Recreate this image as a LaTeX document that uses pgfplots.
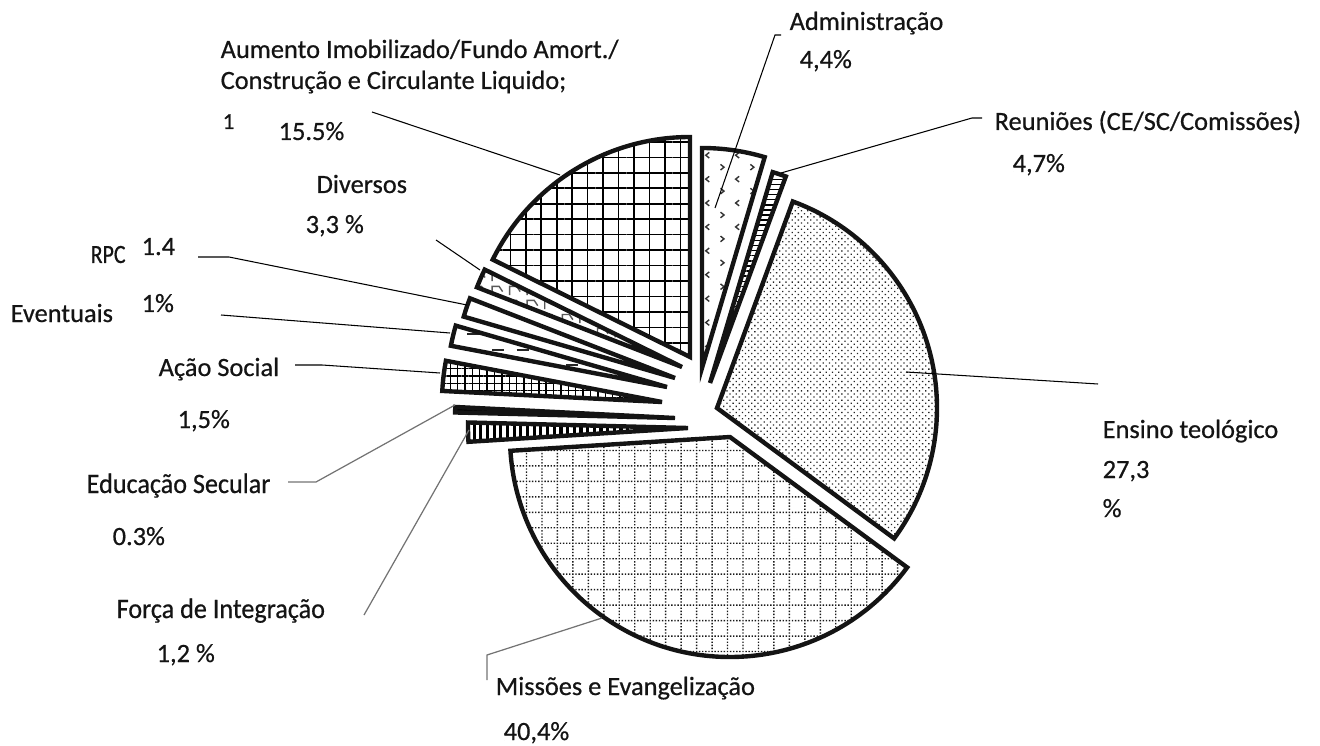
\documentclass[border=0pt]{standalone}
\usepackage{fontspec}
\setmainfont[FakeBold=0.6]{Carlito}
\newfontfamily\condfont[FakeStretch=0.93,FakeBold=0.6]{Carlito}
\newfontfamily\narrowfont[FakeStretch=0.83,FakeBold=0.6]{Carlito}
\usepackage{pgfplots}
\pgfplotsset{compat=1.18}
\usepackage{pgfplotstable}
\usetikzlibrary{patterns,patterns.meta}

\pgfdeclarepatternformonly{dotgrid}{\pgfpoint{-0.2pt}{-0.2pt}}{\pgfpoint{4.6pt}{4.6pt}}{\pgfpoint{4.4pt}{4.4pt}}{
  \pgfpathrectangle{\pgfpoint{0pt}{0pt}}{\pgfpoint{0.4pt}{0.4pt}}
  \pgfpathrectangle{\pgfpoint{0.88pt}{0pt}}{\pgfpoint{0.4pt}{0.4pt}}
  \pgfpathrectangle{\pgfpoint{1.76pt}{0pt}}{\pgfpoint{0.4pt}{0.4pt}}
  \pgfpathrectangle{\pgfpoint{2.64pt}{0pt}}{\pgfpoint{0.4pt}{0.4pt}}
  \pgfpathrectangle{\pgfpoint{3.52pt}{0pt}}{\pgfpoint{0.4pt}{0.4pt}}
  \pgfpathrectangle{\pgfpoint{0pt}{0.88pt}}{\pgfpoint{0.4pt}{0.4pt}}
  \pgfpathrectangle{\pgfpoint{0pt}{1.76pt}}{\pgfpoint{0.4pt}{0.4pt}}
  \pgfpathrectangle{\pgfpoint{0pt}{2.64pt}}{\pgfpoint{0.4pt}{0.4pt}}
  \pgfpathrectangle{\pgfpoint{0pt}{3.52pt}}{\pgfpoint{0.4pt}{0.4pt}}
  \pgfusepath{fill}
}
\pgfdeclarepatternformonly{chev}{\pgfpoint{-0.5pt}{-0.5pt}}{\pgfpoint{9pt}{7.3pt}}{\pgfpoint{8.5pt}{6.8pt}}{
  \pgfsetlinewidth{0.4pt}
  \pgfpathmoveto{\pgfpoint{1pt}{0.4pt}}\pgfpathlineto{\pgfpoint{2pt}{1.2pt}}\pgfpathlineto{\pgfpoint{1pt}{2pt}}
  \pgfpathmoveto{\pgfpoint{6.3pt}{3.8pt}}\pgfpathlineto{\pgfpoint{5.3pt}{4.6pt}}\pgfpathlineto{\pgfpoint{6.3pt}{5.4pt}}
  \pgfusepath{stroke}
}
\pgfdeclarepatternformonly{dashrows}{\pgfpoint{-0.5pt}{-0.5pt}}{\pgfpoint{7.5pt}{5pt}}{\pgfpoint{7pt}{4.5pt}}{
  \pgfsetlinewidth{0.55pt}
  \pgfpathmoveto{\pgfpoint{0pt}{0pt}}\pgfpathlineto{\pgfpoint{3.5pt}{0pt}}
  \pgfusepath{stroke}
}
\pgfdeclarepatternformonly{zig}{\pgfpoint{-0.5pt}{-0.5pt}}{\pgfpoint{5.5pt}{4.5pt}}{\pgfpoint{5pt}{4pt}}{
  \pgfsetlinewidth{0.4pt}
  \pgfpathmoveto{\pgfpoint{0pt}{0pt}}\pgfpathlineto{\pgfpoint{0pt}{2.5pt}}\pgfpathlineto{\pgfpoint{2pt}{2.5pt}}\pgfpathlineto{\pgfpoint{3pt}{1pt}}
  \pgfusepath{stroke}
}

\tikzset{
  pieedge/.style={draw=black!92, line width=1.25pt, line join=miter},
  slice0/.style={pieedge, pattern=chev, pattern color=black!80},
  slice1/.style={pieedge, pattern={Lines[angle=0,distance=1.45pt,line width=0.4pt]}},
  slice2/.style={pieedge, pattern={Dots[distance=1.25pt,radius=0.26pt,angle=45]}, pattern color=black!85},
  slice3/.style={pieedge, pattern=dotgrid, pattern color=black!90},
  slice4/.style={pieedge, pattern={Lines[angle=90,distance=1.9pt,line width=0.9pt]}},
  slice5/.style={pieedge, fill=black},
  slice6/.style={pieedge, pattern={Hatch[angle=0,distance=2.1pt,line width=0.4pt]}},
  slice7/.style={pieedge, pattern=dashrows, pattern color=black!85},
  slice8/.style={pieedge, fill=white},
  slice9/.style={pieedge, pattern=zig, pattern color=black!65},
  slice10/.style={pieedge, pattern={Hatch[angle=0,distance=4.4pt,line width=0.45pt]}},
  lbl/.style={font=\fontsize{7.5}{9}\selectfont, inner sep=0pt, anchor=base west, text=black!92},
  lead/.style={line width=0.3pt, black},
  leadg/.style={line width=0.35pt, black!55},
}

% value = share of the drawn pie (%), tipx/tipy = position of the slice tip (pixels from top-left)
\pgfplotstableread{
label value tipx tipy
Administracao 4.6 702 368
Reunioes 1.0 710 383
EnsinoTeologico 29.5 717 408
Missoes 38.9 730 437
ForcaIntegracao 1.4 688 428
EducacaoSecular 0.4 675 418
AcaoSocial 2.2 662 402
Eventuais 1.5 667 387
RPC 1.4 675 378
Diversos 1.4 682 367
Aumento 17.7 690 357
}\piedata

\begin{document}
\begin{tikzpicture}
\pgfplotstablegetrowsof{\piedata}
\pgfmathtruncatemacro{\nrows}{\pgfplotsretval-1}
\gdef\pietotal{0}
\foreach \i in {0,...,\nrows}{
  \pgfplotstablegetelem{\i}{value}\of\piedata
  \pgfmathsetmacro{\pietmp}{\pietotal+\pgfplotsretval}
  \xdef\pietotal{\pietmp}
}
\gdef\piecum{90}
\foreach \i in {0,...,\nrows}{
  \pgfplotstablegetelem{\i}{value}\of\piedata
  \pgfmathsetmacro{\pieend}{\piecum-360*\pgfplotsretval/\pietotal}
  \expandafter\xdef\csname sA\i\endcsname{\piecum}
  \expandafter\xdef\csname eA\i\endcsname{\pieend}
  \pgfplotstablegetelem{\i}{tipx}\of\piedata
  \expandafter\xdef\csname tX\i\endcsname{\pgfplotsretval}
  \pgfplotstablegetelem{\i}{tipy}\of\piedata
  \expandafter\xdef\csname tY\i\endcsname{\pgfplotsretval}
  \xdef\piecum{\pieend}
}
\begin{axis}[hide axis, scale only axis, width=13.2cm, height=7.45cm,
  xmin=0, xmax=1320, ymin=0, ymax=745, y dir=reverse, clip=false]
\pgfplotsinvokeforeach{0,...,10}{
  \draw[slice#1] (axis cs:\csname tX#1\endcsname,\csname tY#1\endcsname)
    -- ++(\csname sA#1\endcsname:2.2cm)
    arc[start angle=\csname sA#1\endcsname, end angle=\csname eA#1\endcsname, radius=2.2cm] -- cycle;
}
% leader lines
\draw[lead] (axis cs:781,35) -- (axis cs:775,35) -- (axis cs:715,208);
\draw[lead] (axis cs:982,118) -- (axis cs:972,118) -- (axis cs:781,173);
\draw[lead] (axis cs:906,372) -- (axis cs:1098,384);
\draw[leadg] (axis cs:602,618) -- (axis cs:487,655) -- (axis cs:487,680);
\draw[leadg] (axis cs:469,430) -- (axis cs:364,615);
\draw[leadg] (axis cs:455,405) -- (axis cs:316,482) -- (axis cs:288,482);
\draw[lead] (axis cs:440,373) -- (axis cs:322,365) -- (axis cs:295,365);
\draw[lead] (axis cs:450,333) -- (axis cs:221,315);
\draw[lead] (axis cs:467,305) -- (axis cs:229,257) -- (axis cs:198,257);
\draw[lead] (axis cs:480,270) -- (axis cs:436,240);
\draw[lead] (axis cs:560,175) -- (axis cs:372,112);
% labels
\node[lbl] at (axis cs:789,30) {Administração};
\node[lbl] at (axis cs:799,68) {4,4\%};
\node[lbl] at (axis cs:994,130) {Reuniões (CE/SC/Comissões)};
\node[lbl] at (axis cs:1012,172) {4,7\%};
\node[lbl] at (axis cs:1102,438) {Ensino teológico};
\node[lbl] at (axis cs:1102,478) {27,3};
\node[lbl] at (axis cs:1102,517) {\%};
\node[lbl] at (axis cs:495,695) {Missões e Evangelização};
\node[lbl] at (axis cs:503,740) {40,4\%};
\node[lbl] at (axis cs:220,58) {Aumento Imobilizado/Fundo Amort./};
\node[lbl] at (axis cs:220,89) {Construção e Circulante Liquido;};
\node[lbl, font=\fontsize{6.5}{7}\selectfont] at (axis cs:222,129) {1};
\node[lbl] at (axis cs:278,140) {15.5\%};
\node[lbl] at (axis cs:316,193) {Diversos};
\node[lbl] at (axis cs:305,233) {3,3 \%};
\node[lbl, font=\narrowfont\fontsize{7.5}{9}\selectfont] at (axis cs:90,263) {RPC};
\node[lbl] at (axis cs:141,255) {1.4};
\node[lbl] at (axis cs:141,312) {1\%};
\node[lbl] at (axis cs:10,322) {Eventuais};
\node[lbl] at (axis cs:158,376) {Ação Social};
\node[lbl] at (axis cs:177,428) {1,5\%};
\node[lbl, font=\condfont\fontsize{8}{9}\selectfont] at (axis cs:86,493) {Educação Secular};
\node[lbl] at (axis cs:112,545) {0.3\%};
\node[lbl, font=\condfont\fontsize{8}{9}\selectfont] at (axis cs:116,618) {Força de Integração};
\node[lbl] at (axis cs:156,662) {1,2 \%};
\end{axis}
\pgfresetboundingbox
\useasboundingbox (0,0) rectangle (13.2cm,7.45cm);
\end{tikzpicture}
\end{document}
